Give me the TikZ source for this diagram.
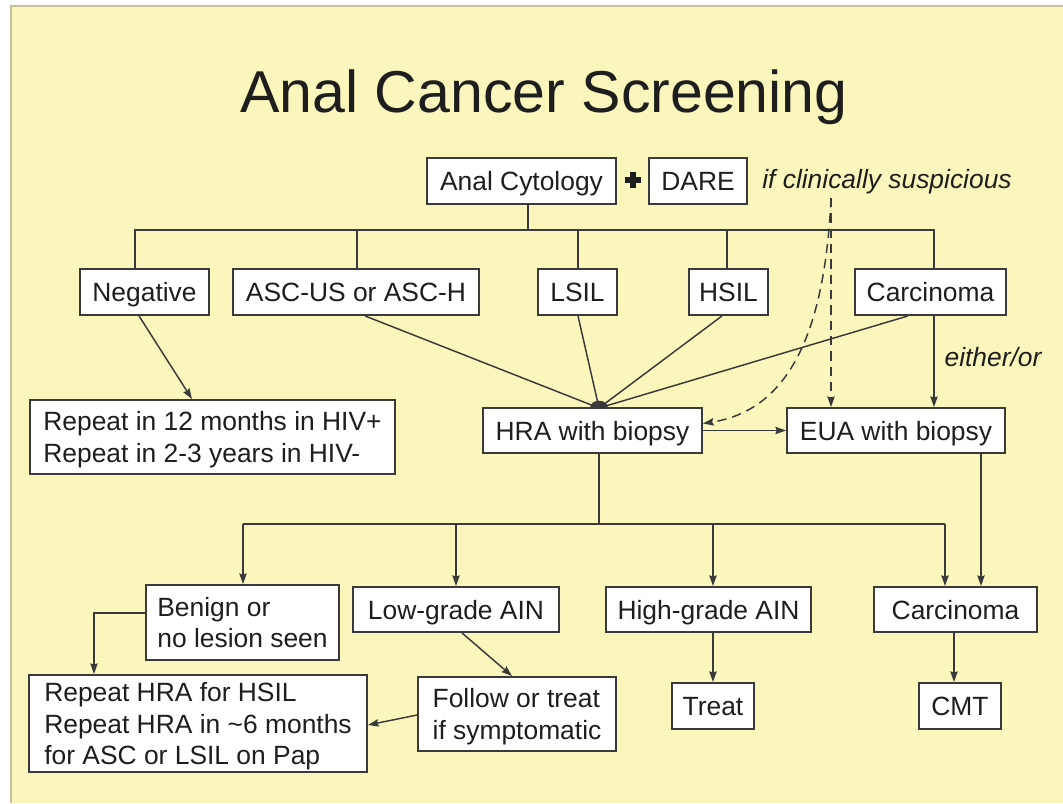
\documentclass[tikz,border=0pt]{standalone}
\usepackage{fontspec}
\setmainfont{Liberation Sans}
\usetikzlibrary{arrows.meta,calc}
\definecolor{bg}{HTML}{FBF6BB}
\definecolor{edge}{HTML}{3A3A3A}
\definecolor{ink}{HTML}{1E1E1E}
\definecolor{framec}{HTML}{C4C09A}
\begin{document}
\begin{tikzpicture}[x=0.75pt,y=-0.75pt,
  box/.style={draw=edge,line width=1.4pt,fill=white,text=ink,inner sep=0pt,align=left,
    text depth=0pt,font=\fontsize{19.8}{23.8}\selectfont},
  wh/.style 2 args={minimum width=#1*0.75pt,minimum height=#2*0.75pt},
  conn/.style={draw=edge,line width=1.1pt},
  arr/.style={conn,-{Stealth[length=8pt,width=5.5pt,inset=1pt]}},
  dashline/.style={dash pattern=on 7pt off 4.5pt},
  lbl/.style={text=ink,inner sep=0pt,font=\fontsize{19.8}{23.8}\selectfont\itshape}
]
\useasboundingbox (0,0) rectangle (1063,803);
\fill[white] (0,0) rectangle (1063,803);
\fill[bg] (11,6) rectangle (1063,803);
\draw[framec,line width=1.5pt] (11,803) -- (11,6) -- (1063,6);

% title
\node[text=ink,inner sep=0pt,anchor=base,font=\fontsize{44.3}{50}\selectfont] (title) at (544,112) {Anal Cancer Screening};

% top row
\node[box,wh={189}{46}] (ac) at (521.5,181) {Anal Cytology};
\node[box,wh={98}{46}] (dare) at (698,181) {DARE};
\fill[ink] (625,176.5) rectangle (641,182.5);
\fill[ink] (630,171.5) rectangle (636,187.5);
\node[lbl] (susp) at (887,182) {if clinically suspicious};

% cytology results
\node[box,wh={129}{46}] (neg) at (144.5,292) {Negative};
\node[box,wh={246}{46}] (asc) at (356,292) {ASC-US or ASC-H};
\node[box,wh={79}{46}] (lsil) at (577.5,292) {LSIL};
\node[box,wh={79}{46}] (hsil) at (728.5,292) {HSIL};
\node[box,wh={151}{46}] (carc1) at (930.5,292) {Carcinoma};

\node[box,wh={365}{74}] (rep12) at (212.5,437) {Repeat in 12 months in HIV+\\Repeat in 2-3 years in HIV-};
\node[box,wh={219}{45}] (hra) at (592.5,430.5) {HRA with biopsy};
\node[box,wh={218}{45}] (eua) at (896,430.5) {EUA with biopsy};
\node[lbl] (either) at (993,357) {either/or};

% HRA results
\node[box,wh={193}{75}] (benign) at (242.5,622.5) {Benign or\\no lesion seen};
\node[box,wh={206}{45}] (low) at (456,609.5) {Low-grade AIN};
\node[box,wh={205}{45}] (high) at (708.5,609.5) {High-grade AIN};
\node[box,wh={163}{45}] (carc2) at (955.5,609.5) {Carcinoma};

\node[box,wh={338}{97}] (rephra) at (198,723.5) {Repeat HRA for HSIL\\Repeat HRA in \char`\~6 months\\for ASC or LSIL on Pap};
\node[box,wh={198}{74}] (follow) at (517,714) {Follow or treat\\if symptomatic};
\node[box,wh={82}{46}] (treat) at (713,706) {Treat};
\node[box,wh={82}{46}] (cmt) at (960,706) {CMT};

% connectors: cytology bus
\coordinate (b1) at (528,230);
\draw[conn] (ac.south -| b1) -- (b1);
\draw[conn] (neg.north -| 135,0) -- (135,230) -- (934,230) -- (carc1.north -| 934,0);
\draw[conn] (asc.north -| 357,0) -- (357,230);
\draw[conn] (lsil.north -| 578,0) -- (578,230);
\draw[conn] (hsil.north -| 727,0) -- (727,230);

\draw[arr] (neg.south -| 139,0) -- (rep12.north -| 192,0);

% convergence on HRA
\coordinate (conv) at (599,408);
\draw[conn] (asc.south -| 365,0) -- (conv);
\draw[conn] (lsil.south -| 578,0) -- (conv);
\draw[conn] (hsil.south -| 722,0) -- (conv);
\draw[conn] (carc1.south -| 908,0) -- (conv);
\fill[edge] ($(conv)+(-9,0)$) arc[start angle=180,end angle=0,x radius=6.75pt,y radius=5.5pt] -- cycle;

\draw[arr] (carc1.south -| 934,0) -- (eua.north -| 934,0);

% dashed suspicion lines
\coordinate (dtop) at (831,198);
\draw[arr,dashline] (dtop) -- (eua.north -| dtop);
\draw[arr,dashline] (dtop) .. controls (825,330) and (790,410) .. ($(hra.east)+(0,-7)$);

\draw[arr] (hra.east) -- (eua.west);

% HRA bus
\coordinate (b2) at (599,524);
\draw[conn] (hra.south -| b2) -- (b2);
\draw[conn] (243,524) -- (945,524);
\draw[arr] (243,524) -- (benign.north -| 243,0);
\draw[arr] (456,524) -- (low.north -| 456,0);
\draw[arr] (713,524) -- (high.north -| 713,0);
\draw[arr] (945,524) -- (carc2.north -| 945,0);
\draw[arr] (eua.south -| 981,0) -- (carc2.north -| 981,0);

% bottom
\draw[arr] (benign.west |- 0,613) -| (rephra.north -| 94,0);
\draw[arr] (low.south -| 462,0) -- (follow.north -| 512,0);
\draw[arr] (follow.west |- 0,715) -- (rephra.east |- 0,725);
\draw[arr] (high.south -| 713,0) -- (treat.north -| 713,0);
\draw[arr] (carc2.south -| 954,0) -- (cmt.north -| 954,0);
\end{tikzpicture}
\end{document}
